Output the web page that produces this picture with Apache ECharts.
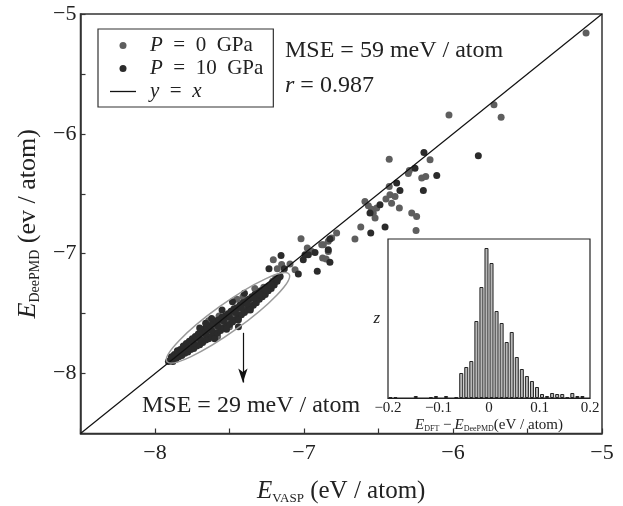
<!DOCTYPE html>
<html>
<head>
<meta charset="utf-8">
<script src="https://cdn.jsdelivr.net/npm/echarts@6/dist/echarts.min.js"></script>
<style>
  html, body { margin: 0; padding: 0; background: #fff; }
  #main { width: 623px; height: 506px; }
</style>
</head>
<body>
<div id="main"></div>
<script>
// P = 0 GPa 的点（灰色）
var p0Points = [
  // 离群点
  [-5.107, -5.158], [-5.725, -5.758], [-5.677, -5.861], [-6.027, -5.842], [-6.154, -6.217],
  [-6.428, -6.211], [-6.293, -6.306], [-6.210, -6.369], [-6.183, -6.356], [-6.428, -6.439],
  [-6.423, -6.508], [-6.450, -6.544], [-6.389, -6.522], [-6.412, -6.578], [-6.360, -6.619],
  [-6.277, -6.661], [-6.244, -6.689], [-6.248, -6.806], [-6.619, -6.778], [-6.658, -6.878],
  [-6.591, -6.564], [-6.568, -6.600], [-6.546, -6.628], [-6.535, -6.661], [-6.523, -6.703],
  [-6.512, -6.619], [-6.781, -6.828], [-6.870, -6.925], [-7.020, -6.875], [-7.206, -7.050],
  [-7.179, -7.125], [-7.094, -7.086], [-7.060, -7.133], [-6.978, -6.953], [-6.948, -6.981],
  [-6.881, -6.925], [-6.837, -6.897], [-6.814, -6.869], [-6.837, -6.981], [-6.875, -7.036],
  [-6.852, -7.044], [-7.150, -7.090], [-6.300, -6.330],
  // 密集区
  [-7.88, -7.87], [-7.85, -7.85], [-7.83, -7.82], [-7.80, -7.79], [-7.77, -7.78],
  [-7.75, -7.74], [-7.72, -7.71], [-7.69, -7.72], [-7.67, -7.66], [-7.64, -7.65],
  [-7.61, -7.62], [-7.59, -7.58], [-7.56, -7.59], [-7.53, -7.55], [-7.51, -7.52],
  [-7.48, -7.51], [-7.45, -7.48], [-7.43, -7.46], [-7.40, -7.43], [-7.37, -7.40],
  [-7.35, -7.39], [-7.32, -7.35], [-7.29, -7.33], [-7.27, -7.28], [-7.24, -7.27],
  [-7.21, -7.23], [-7.19, -7.20], [-7.60, -7.65], [-7.52, -7.57], [-7.47, -7.52],
  [-7.68, -7.69], [-7.76, -7.76], [-7.57, -7.52], [-7.41, -7.36], [-7.33, -7.29],
  [-7.58, -7.69], [-7.50, -7.61], [-7.64, -7.56], [-7.45, -7.38]
];

// P = 10 GPa 的点（深色）
var p10Points = [
  // 离群点
  [-5.830, -6.183], [-6.195, -6.156], [-6.255, -6.286], [-6.109, -6.347], [-6.199, -6.472],
  [-6.378, -6.411], [-6.356, -6.472], [-6.456, -6.778], [-6.552, -6.828], [-6.490, -6.592],
  [-6.557, -6.661], [-6.826, -6.878], [-6.837, -6.967], [-7.154, -7.014], [-7.235, -7.125],
  [-7.132, -7.125], [-7.038, -7.169], [-7.005, -7.050], [-6.926, -6.989], [-6.993, -7.008],
  [-6.971, -7.008], [-6.911, -7.147], [-6.826, -7.072], [-7.44, -7.61],
  // 密集区
  [-7.91, -7.90], [-7.90, -7.89], [-7.89, -7.86], [-7.88, -7.90], [-7.87, -7.84],
  [-7.86, -7.88], [-7.85, -7.81], [-7.84, -7.86], [-7.83, -7.80], [-7.82, -7.85],
  [-7.81, -7.77], [-7.80, -7.83], [-7.79, -7.75], [-7.78, -7.82], [-7.77, -7.73],
  [-7.76, -7.80], [-7.75, -7.71], [-7.74, -7.79], [-7.73, -7.69], [-7.72, -7.77],
  [-7.71, -7.67], [-7.70, -7.76], [-7.69, -7.65], [-7.68, -7.74], [-7.67, -7.63],
  [-7.66, -7.72], [-7.65, -7.62], [-7.64, -7.71], [-7.63, -7.60], [-7.62, -7.69],
  [-7.61, -7.58], [-7.60, -7.68], [-7.59, -7.56], [-7.58, -7.66], [-7.57, -7.55],
  [-7.56, -7.64], [-7.55, -7.53], [-7.54, -7.62], [-7.53, -7.52], [-7.52, -7.60],
  [-7.51, -7.50], [-7.50, -7.59], [-7.49, -7.48], [-7.48, -7.57], [-7.47, -7.46],
  [-7.46, -7.55], [-7.45, -7.45], [-7.44, -7.53], [-7.43, -7.43], [-7.42, -7.51],
  [-7.41, -7.41], [-7.40, -7.49], [-7.39, -7.40], [-7.38, -7.47], [-7.37, -7.38],
  [-7.36, -7.45], [-7.35, -7.36], [-7.34, -7.43], [-7.33, -7.34], [-7.32, -7.41],
  [-7.31, -7.33], [-7.30, -7.38], [-7.29, -7.31], [-7.28, -7.36], [-7.27, -7.30],
  [-7.26, -7.34], [-7.25, -7.28], [-7.24, -7.31], [-7.23, -7.27], [-7.22, -7.29],
  [-7.21, -7.25], [-7.20, -7.26], [-7.19, -7.23], [-7.18, -7.23], [-7.17, -7.20],
  [-7.16, -7.19],
  [-7.86, -7.86], [-7.82, -7.82], [-7.78, -7.79], [-7.74, -7.75], [-7.70, -7.71],
  [-7.66, -7.67], [-7.62, -7.64], [-7.58, -7.60], [-7.54, -7.56], [-7.50, -7.53],
  [-7.46, -7.49], [-7.42, -7.45], [-7.38, -7.42], [-7.34, -7.37], [-7.30, -7.34],
  [-7.26, -7.30], [-7.22, -7.26], [-7.18, -7.21],
  [-7.70, -7.62], [-7.62, -7.54], [-7.55, -7.47], [-7.48, -7.40], [-7.60, -7.71],
  [-7.52, -7.63], [-7.44, -7.55], [-7.36, -7.47], [-7.66, -7.58], [-7.40, -7.33]
];

// y = x 参考线
var diagLine = [[-8.5, -8.5], [-5, -5]];

// 箭头（从椭圆指向下方文字）
var arrowFrom = [-7.41, -7.66];
var arrowTo = [-7.41, -8.075];

// 椭圆两端（数据坐标）
var ellipseEndA = [-7.92, -7.90];
var ellipseEndB = [-7.10, -7.17];

// 小图：误差直方图
var binCenters = [-0.195, -0.185, -0.145, -0.115, -0.105, -0.085, -0.065,
  -0.055, -0.045, -0.035, -0.025, -0.015, -0.005, 0.005, 0.015, 0.025, 0.035, 0.045,
  0.055, 0.065, 0.075, 0.085, 0.095, 0.105, 0.115, 0.125, 0.135, 0.145, 0.155,
  0.165, 0.175, 0.185];
var binCounts = [1, 1, 2, 1, 2, 2, 1,
  25, 31, 37, 77, 111, 150, 135, 87, 75, 56, 66,
  41, 29, 22, 17, 11, 4, 2, 5, 4, 4, 1,
  5, 2, 2];

var serif = "'Liberation Serif', 'Times New Roman', serif";
var minus = "\u2212";

function mainLabel(v) {
  if (Math.abs(v - Math.round(v)) > 1e-6) return "";
  var r = Math.round(v);
  return r < 0 ? minus + Math.abs(r) : String(r);
}
function insetLabel(v) {
  var r = Math.round(v * 10) / 10;
  if (r === 0) return "0";
  return r < 0 ? minus + Math.abs(r) : String(r);
}

var histData = binCenters.map(function (c, i) { return [c, binCounts[i]]; });

var container = document.getElementById("main");
var myChart = echarts.init(container);

var option = {
  animation: false,
  backgroundColor: "#fff",
  textStyle: { fontFamily: serif, color: "#222" },
  grid: [
    {
      left: 80.5, right: 21, top: 14, bottom: 72.5, outerBoundsMode: "none",
      show: true, borderColor: "#333", borderWidth: 1.5
    },
    {
      left: 388, top: 239, width: 202, height: 159, outerBoundsMode: "none",
      show: true, borderColor: "#222", borderWidth: 1.2, backgroundColor: "#fff", z: 5
    }
  ],
  legend: {
    orient: "vertical",
    left: 98, top: 29,
    padding: [6, 10, 5, 12],
    itemGap: 2,
    itemWidth: 26, itemHeight: 7,
    borderColor: "#333", borderWidth: 1.2,
    backgroundColor: "#fff",
    data: [
      { name: "P0", icon: "circle" },
      { name: "P10", icon: "circle" },
      { name: "diag", icon: "path://M0,0 L26,0 L26,1.3 L0,1.3 Z" }
    ],
    formatter: function (name) {
      if (name === "P0") return "{i|P}\u2002=\u20020\u2002GPa";
      if (name === "P10") return "{i|P}\u2002=\u200210\u2002GPa";
      return "{i|y}\u2002=\u2002{i|x}";
    },
    textStyle: {
      fontFamily: serif, fontSize: 21, color: "#222", padding: [0, 0, 0, 9],
      rich: { i: { fontStyle: "italic", fontFamily: serif, fontSize: 21, color: "#222" } }
    }
  },
  xAxis: [
    {
      type: "value", gridIndex: 0, min: -8.5, max: -5, interval: 0.5,
      axisLine: { lineStyle: { color: "#333", width: 1.5 } },
      axisTick: { inside: true, length: 5, lineStyle: { color: "#333", width: 1.2 } },
      axisLabel: { formatter: mainLabel, fontFamily: serif, fontSize: 22, color: "#222", margin: 9 },
      splitLine: { show: false },
      name: "{i|E}{s|VASP} (eV / atom)",
      nameLocation: "middle", nameGap: 44,
      nameTextStyle: {
        fontFamily: serif, fontSize: 25, color: "#222", lineHeight: 28,
        rich: {
          i: { fontStyle: "italic", fontFamily: serif, fontSize: 25, color: "#222", lineHeight: 28 },
          s: { fontFamily: serif, fontSize: 13, color: "#222", lineHeight: 28, verticalAlign: "bottom" }
        }
      }
    },
    {
      type: "value", gridIndex: 1, min: -0.2, max: 0.2, interval: 0.1,
      axisLine: { lineStyle: { color: "#222", width: 1.2 } },
      axisTick: { show: false },
      axisLabel: { formatter: insetLabel, fontFamily: serif, fontSize: 15, color: "#222", margin: 3 },
      splitLine: { show: false },
      name: "{i|E}{s|DFT} \u2212\u2009{i|E}{s|DeePMD}(eV / atom)",
      nameLocation: "middle", nameGap: 18,
      nameTextStyle: {
        fontFamily: serif, fontSize: 15, color: "#222", lineHeight: 16,
        rich: {
          i: { fontStyle: "italic", fontFamily: serif, fontSize: 15, color: "#222", lineHeight: 16 },
          s: { fontFamily: serif, fontSize: 8, color: "#222", lineHeight: 16, verticalAlign: "bottom" }
        }
      }
    }
  ],
  yAxis: [
    {
      type: "value", gridIndex: 0, min: -8.5, max: -5, interval: 0.5,
      axisLine: { lineStyle: { color: "#333", width: 1.5 } },
      axisTick: { inside: true, length: 5, lineStyle: { color: "#333", width: 1.2 } },
      axisLabel: { formatter: mainLabel, fontFamily: serif, fontSize: 22, color: "#222", margin: 4 },
      splitLine: { show: false },
      name: "{i|E}{s|DeePMD} (ev / atom)",
      nameLocation: "middle", nameGap: 37, nameRotate: 90,
      nameTextStyle: {
        fontFamily: serif, fontSize: 26, color: "#222", lineHeight: 29,
        rich: {
          i: { fontStyle: "italic", fontFamily: serif, fontSize: 26, color: "#222", lineHeight: 29 },
          s: { fontFamily: serif, fontSize: 14, color: "#222", lineHeight: 29, verticalAlign: "bottom" }
        }
      }
    },
    {
      type: "value", gridIndex: 1, min: 0, max: 159,
      axisLine: { show: false }, axisTick: { show: false }, axisLabel: { show: false },
      splitLine: { show: false },
      name: "z", nameLocation: "middle", nameGap: 8, nameRotate: 0,
      nameTextStyle: { fontFamily: serif, fontSize: 17, fontStyle: "italic", color: "#222" }
    }
  ],
  series: [
    {
      name: "P0", type: "scatter", xAxisIndex: 0, yAxisIndex: 0,
      symbolSize: 7, data: p0Points,
      itemStyle: { color: "#5e5e5e", opacity: 1 }
    },
    {
      name: "P10", type: "scatter", xAxisIndex: 0, yAxisIndex: 0,
      symbolSize: 7, data: p10Points,
      itemStyle: { color: "#2b2b2b", opacity: 1 }
    },
    {
      name: "diag", type: "line", xAxisIndex: 0, yAxisIndex: 0,
      data: diagLine, symbol: "none", z: 3,
      lineStyle: { color: "#111", width: 1.2 },
      itemStyle: { color: "#111" },
      markLine: {
        silent: true, symbol: ["none", "arrow"], symbolSize: [7, 14],
        label: { show: false },
        lineStyle: { color: "#111", width: 1.2, type: "solid" },
        data: [[{ coord: arrowFrom }, { coord: arrowTo }]]
      }
    },
    {
      name: "hist", type: "bar", xAxisIndex: 1, yAxisIndex: 1,
      data: histData, barWidth: 4, z: 6,
      itemStyle: { color: "#b8b8b8", borderColor: "#222", borderWidth: 1 }
    }
  ]
};

myChart.setOption(option);

// 注释文字 + 椭圆
var pa = myChart.convertToPixel({ xAxisIndex: 0, yAxisIndex: 0 }, ellipseEndA);
var pb = myChart.convertToPixel({ xAxisIndex: 0, yAxisIndex: 0 }, ellipseEndB);
var cx = (pa[0] + pb[0]) / 2, cy = (pa[1] + pb[1]) / 2;
var half = Math.sqrt(Math.pow(pb[0] - pa[0], 2) + Math.pow(pb[1] - pa[1], 2)) / 2;
var ang = Math.atan2(pa[1] - pb[1], pb[0] - pa[0]);

myChart.setOption({
  graphic: [
    {
      type: "ellipse", x: cx, y: cy, rotation: ang, z: 10,
      shape: { cx: 0, cy: 0, rx: half, ry: 14 },
      style: { fill: "none", stroke: "#9a9a9a", lineWidth: 1.5 }
    },
    {
      type: "text", left: 285, top: 39, z: 10,
      style: { text: "MSE = 59 meV / atom", font: "24px " + serif, fill: "#222" }
    },
    {
      type: "text", left: 285, top: 74, z: 10,
      style: {
        text: "{i|r} = 0.987", font: "24px " + serif, fill: "#222",
        rich: { i: { fontStyle: "italic", fontFamily: serif, fontSize: 24 } }
      }
    },
    {
      type: "text", left: 142, top: 394, z: 10,
      style: { text: "MSE = 29 meV / atom", font: "24px " + serif, fill: "#222" }
    }
  ]
});

let resizeObserver = new ResizeObserver(() => myChart?.resize());
resizeObserver.observe(container);
</script>
</body>
</html>
